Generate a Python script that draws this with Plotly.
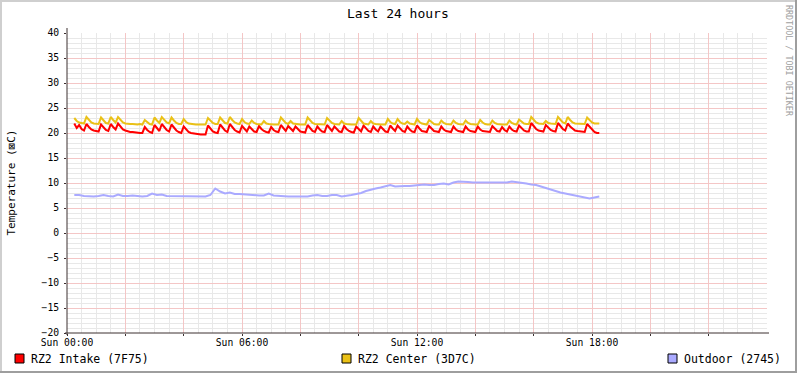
import plotly.graph_objects as go

# ---------------- data ----------------
TITLE = "Last 24 hours"
Y_TITLE = "Temperature (⊠C)"
WATERMARK = "RRDTOOL / TOBI OETIKER"
SERIES_NAMES = ["RZ2 Intake (7F75)", "RZ2 Center (3D7C)", "Outdoor (2745)"]
SERIES_COLORS = ["#FF0000", "#EAC117", "#AAAAFF"]

X_TICK_HOURS = [0, 2, 4, 6, 8, 10, 12, 14, 16, 18, 20, 22]
X_TICK_TEXT = ["Sun 00:00", "", "", "Sun 06:00", "", "", "Sun 12:00", "", "", "Sun 18:00", "", ""]
Y_TICKS = [-20, -15, -10, -5, 0, 5, 10, 15, 20, 25, 30, 35, 40]

# 5-minute samples starting 00:15 (hours)
FAST_START_H = 0.25
FAST_STEP_H = 5 / 60
intake = [
    21.9, 21.0, 21.6, 20.8, 20.5, 21.8, 21.2, 20.7, 20.5, 20.4, 20.3, 21.7,
    21.1, 20.6, 20.4, 21.8, 21.2, 20.7, 21.9, 21.3, 20.7, 20.5, 20.3, 20.2,
    20.2, 20.1, 20.1, 20.0, 20.0, 21.2, 20.6, 20.2, 20.0, 21.6, 21.0, 20.4,
    21.8, 21.2, 20.6, 20.3, 21.7, 21.1, 20.5, 20.2, 20.0, 21.3, 20.7, 20.2,
    20.0, 19.9, 19.8, 19.8, 19.7, 19.7, 19.7, 21.5, 20.9, 20.3, 20.1, 20.0,
    21.7, 21.1, 20.5, 20.2, 21.8, 21.2, 20.6, 20.3, 20.1, 21.4, 20.8, 20.3,
    21.3, 20.7, 20.3, 20.2, 21.4, 20.8, 20.4, 20.2, 20.1, 21.2, 20.6, 20.3,
    20.2, 21.6, 21.0, 20.4, 21.4, 20.8, 20.4, 21.3, 20.7, 20.3, 20.2, 20.1,
    21.6, 21.0, 20.4, 20.2, 21.3, 20.7, 20.3, 20.2, 21.6, 21.0, 20.4, 21.3,
    20.7, 20.3, 20.2, 21.4, 20.8, 20.4, 20.2, 20.1, 21.3, 20.7, 20.3, 21.5,
    20.9, 20.4, 20.2, 21.3, 20.7, 20.3, 21.3, 20.7, 20.3, 20.2, 21.5, 20.9,
    20.4, 21.5, 20.9, 20.4, 20.2, 21.3, 20.7, 20.3, 20.2, 21.5, 20.9, 20.4,
    20.3, 20.2, 21.4, 20.8, 20.4, 20.3, 20.2, 21.3, 20.7, 20.4, 20.3, 20.2,
    21.3, 20.7, 20.4, 20.3, 20.2, 21.3, 20.7, 20.4, 20.3, 20.2, 21.3, 20.7,
    20.4, 20.3, 20.2, 20.2, 21.4, 20.8, 20.4, 20.3, 21.2, 20.6, 20.3, 21.3,
    20.7, 20.4, 20.3, 21.5, 20.9, 20.5, 20.3, 20.3, 22.0, 21.4, 20.8, 20.5,
    20.4, 20.3, 21.6, 21.0, 20.6, 20.4, 20.3, 22.0, 21.4, 20.8, 20.5, 21.9,
    21.3, 20.8, 20.5, 20.4, 20.3, 20.3, 20.2, 21.8, 21.2, 20.6, 20.2, 20.0,
    20.0,
]
center = [
    23.0, 22.4, 22.1, 22.0, 21.9, 23.2, 22.6, 22.1, 21.9, 21.9, 21.8, 23.1,
    22.5, 22.0, 21.9, 23.2, 22.6, 22.1, 23.2, 22.6, 22.1, 21.9, 21.8, 21.8,
    21.8, 21.7, 21.7, 21.8, 21.7, 22.6, 22.1, 21.8, 21.7, 23.1, 22.5, 22.0,
    23.2, 22.6, 22.1, 21.9, 23.1, 22.5, 22.0, 21.8, 21.8, 22.8, 22.2, 21.9,
    21.8, 21.7, 21.7, 21.7, 21.7, 21.7, 21.7, 23.0, 22.4, 22.0, 21.8, 21.8,
    23.1, 22.5, 22.0, 21.9, 23.2, 22.6, 22.1, 21.9, 21.8, 22.8, 22.2, 21.9,
    21.8, 22.5, 22.0, 21.8, 21.7, 21.7, 22.4, 21.9, 21.8, 21.7, 21.7, 21.7,
    21.7, 23.1, 22.5, 22.0, 21.8, 22.4, 21.9, 21.8, 21.7, 21.7, 21.7, 21.7,
    23.1, 22.5, 22.0, 21.8, 21.8, 21.7, 21.7, 21.7, 23.0, 22.4, 22.0, 21.8,
    21.7, 21.7, 22.4, 21.9, 21.8, 21.7, 21.7, 21.7, 21.7, 23.0, 22.4, 21.9,
    21.8, 21.7, 22.4, 21.9, 21.8, 21.7, 21.7, 21.7, 21.7, 22.8, 22.2, 21.9,
    21.8, 22.8, 22.2, 21.9, 21.8, 22.3, 21.9, 21.8, 21.7, 22.8, 22.2, 21.9,
    21.8, 21.7, 22.6, 22.1, 21.8, 21.7, 21.7, 22.5, 22.0, 21.8, 21.7, 21.7,
    22.5, 22.0, 21.8, 21.7, 21.7, 22.5, 22.0, 21.8, 21.7, 21.7, 21.7, 22.6,
    22.1, 21.8, 21.7, 21.7, 22.5, 22.0, 21.8, 21.7, 21.7, 21.7, 21.7, 22.5,
    22.0, 21.8, 21.7, 22.7, 22.2, 21.9, 21.8, 21.8, 23.2, 22.6, 22.1, 21.9,
    21.9, 21.8, 22.4, 22.0, 21.9, 21.8, 21.8, 23.2, 22.6, 22.1, 21.9, 23.2,
    22.6, 22.1, 21.9, 21.9, 21.8, 21.8, 21.8, 23.1, 22.5, 22.1, 21.9, 21.9,
    21.9,
]

# 10-minute samples starting 00:15 (hours)
SLOW_START_H = 0.25
SLOW_STEP_H = 10 / 60
outdoor = [
    7.6, 7.6, 7.4, 7.3, 7.3, 7.4, 7.6, 7.4, 7.3, 7.7, 7.4, 7.4,
    7.5, 7.4, 7.3, 7.4, 7.9, 7.6, 7.7, 7.4, 7.4, 7.4, 7.4, 7.3,
    7.3, 7.3, 7.3, 7.3, 7.6, 8.9, 8.3, 7.9, 8.1, 7.8, 7.8, 7.7,
    7.6, 7.6, 7.5, 7.5, 7.9, 7.5, 7.4, 7.3, 7.3, 7.3, 7.3, 7.3,
    7.3, 7.5, 7.6, 7.4, 7.4, 7.6, 7.6, 7.3, 7.4, 7.6, 7.8, 8.0,
    8.4, 8.7, 8.9, 9.1, 9.3, 9.6, 9.3, 9.4, 9.4, 9.4, 9.5, 9.7,
    9.7, 9.6, 9.6, 9.8, 9.9, 9.7, 10.1, 10.3, 10.3, 10.2, 10.1, 10.1,
    10.1, 10.1, 10.1, 10.1, 10.2, 10.1, 10.3, 10.2, 10.1, 9.9, 9.7, 9.6,
    9.3, 9.0, 8.6, 8.4, 8.1, 7.9, 7.7, 7.5, 7.3, 7.1, 6.9, 7.1,
    7.3,
]

fast_x = [FAST_START_H + i * FAST_STEP_H for i in range(len(intake))]
slow_x = [SLOW_START_H + i * SLOW_STEP_H for i in range(len(outdoor))]

# minor grid positions (every 30 min / every 1 degree, skipping major lines)
X_MINOR = [h / 2 for h in range(1, 48) if h % 4 != 0]
Y_MINOR = [v for v in range(-19, 40) if v % 5 != 0]

# ---------------- layout geometry ----------------
W, H = 797, 373
ML, MR, MT, MB = 67, 30, 33, 40
PW, PH = W - ML - MR, H - MT - MB
FONT = "DejaVu Sans Mono"
AXIS_COLOR = "#3C3030"
ARROW_COLOR = "#800000"
MGRID = "#F4C6C6"
GRID = "#E8E8E8"


def fx(px):
    return (px - ML) / PW


def fy(py):
    return (H - MB - py) / PH


fig = go.Figure()
series = [(fast_x, intake), (fast_x, center), (slow_x, outdoor)]
for (xs, ys), name, color in zip(series, SERIES_NAMES, SERIES_COLORS):
    fig.add_trace(go.Scatter(x=xs, y=ys, mode="lines", name=name,
                             line=dict(color=color, width=2),
                             showlegend=False, hoverinfo="skip"))

fig.update_layout(
    width=W, height=H, autosize=False,
    margin=dict(l=ML, r=MR, t=MT, b=MB, pad=0),
    paper_bgcolor="#FFFFFF", plot_bgcolor="#FFFFFF",
    font=dict(family=FONT, size=10, color="#000000"),
    xaxis=dict(
        range=[0, 24], tickmode="array", tickvals=X_TICK_HOURS, ticktext=X_TICK_TEXT,
        showgrid=True, gridcolor=MGRID, gridwidth=1,
        zeroline=False, showline=False,
        ticks="outside", ticklen=2, tickcolor=AXIS_COLOR, tickwidth=1,
        ticklabelstandoff=-2,
        tickfont=dict(family=FONT, size=9.7, color="#000000"),
        minor=dict(tickmode="array", tickvals=X_MINOR, showgrid=True,
                   gridcolor=GRID, gridwidth=1, ticks=""),
        fixedrange=True,
    ),
    yaxis=dict(
        range=[-20, 40], tickmode="array", tickvals=Y_TICKS,
        showgrid=True, gridcolor=MGRID, gridwidth=1,
        zeroline=False, showline=False,
        ticks="outside", ticklen=2, tickcolor=AXIS_COLOR, tickwidth=1,
        ticklabelstandoff=3,
        tickfont=dict(family=FONT, size=9.7, color="#000000"),
        minor=dict(tickmode="array", tickvals=Y_MINOR, showgrid=True,
                   gridcolor=GRID, gridwidth=1, ticks=""),
        fixedrange=True,
    ),
)

shapes = []
# axis lines
shapes.append(dict(type="line", xref="paper", yref="paper",
                   x0=fx(ML), x1=fx(ML), y0=fy(H - MB + 2), y1=fy(MT - 5),
                   line=dict(color=AXIS_COLOR, width=1)))
shapes.append(dict(type="line", xref="paper", yref="paper",
                   x0=fx(ML - 2), x1=fx(ML + PW + 2), y0=0, y1=0,
                   line=dict(color=AXIS_COLOR, width=1)))
# arrows
shapes.append(dict(type="path", xref="x", yref="y", xsizemode="pixel", ysizemode="pixel",
                   xanchor=0, yanchor=40, path="M -3,3 L 3,3 L 0,8 Z",
                   fillcolor=ARROW_COLOR, line=dict(width=0)))
shapes.append(dict(type="path", xref="x", yref="y", xsizemode="pixel", ysizemode="pixel",
                   xanchor=24, yanchor=-20, path="M 1,-3 L 1,3 L 7,0 Z",
                   fillcolor=ARROW_COLOR, line=dict(width=0)))
# 3D frame
light, dark = "#CFCFCF", "#9E9E9E"
shapes.append(dict(type="rect", xref="paper", yref="paper", x0=fx(0), x1=fx(W), y0=fy(0), y1=fy(2),
                   fillcolor=light, line=dict(width=0), layer="above"))
shapes.append(dict(type="rect", xref="paper", yref="paper", x0=fx(0), x1=fx(2), y0=fy(0), y1=fy(H),
                   fillcolor=light, line=dict(width=0), layer="above"))
shapes.append(dict(type="rect", xref="paper", yref="paper", x0=fx(W - 2), x1=fx(W), y0=fy(0), y1=fy(H),
                   fillcolor=dark, line=dict(width=0), layer="above"))
shapes.append(dict(type="rect", xref="paper", yref="paper", x0=fx(0), x1=fx(W), y0=fy(H - 2), y1=fy(H),
                   fillcolor=dark, line=dict(width=0), layer="above"))

annotations = []
# title
annotations.append(dict(text=TITLE, xref="paper", yref="paper", x=fx(398), y=fy(13),
                        xanchor="center", yanchor="middle", showarrow=False, borderpad=0,
                        font=dict(family=FONT, size=13, color="#000000")))
# y axis title
annotations.append(dict(text=Y_TITLE, xref="paper", yref="paper", x=fx(10.5), y=fy(183),
                        xanchor="center", yanchor="middle", textangle=-90, showarrow=False,
                        borderpad=0, font=dict(family=FONT, size=11, color="#000000")))
# watermark
annotations.append(dict(text=WATERMARK, xref="paper", yref="paper", x=fx(789), y=fy(61),
                        xanchor="center", yanchor="middle", textangle=90, showarrow=False,
                        borderpad=0, font=dict(family=FONT, size=8.4, color="#A0A0A0")))

# legend
LEG_BOX_X = [15, 342, 668]
LEG_TEXT_X = [30, 357, 683]
LEG_Y = 358.5
for name, color, bx, tx in zip(SERIES_NAMES, SERIES_COLORS, LEG_BOX_X, LEG_TEXT_X):
    shapes.append(dict(type="rect", xref="paper", yref="paper",
                       x0=fx(bx), x1=fx(bx + 9), y0=fy(LEG_Y - 4.5), y1=fy(LEG_Y + 4.5),
                       fillcolor=color, line=dict(color="#000000", width=1)))
    annotations.append(dict(text=name, xref="paper", yref="paper", x=fx(tx), y=fy(LEG_Y),
                            xanchor="left", yanchor="middle", showarrow=False, borderpad=0,
                            font=dict(family=FONT, size=11.5, color="#000000")))

fig.update_layout(shapes=shapes, annotations=annotations)
fig.write_html("out.html", config={"displayModeBar": False, "staticPlot": True},
               post_script="document.body.style.margin='0px';document.body.style.padding='0px';")
